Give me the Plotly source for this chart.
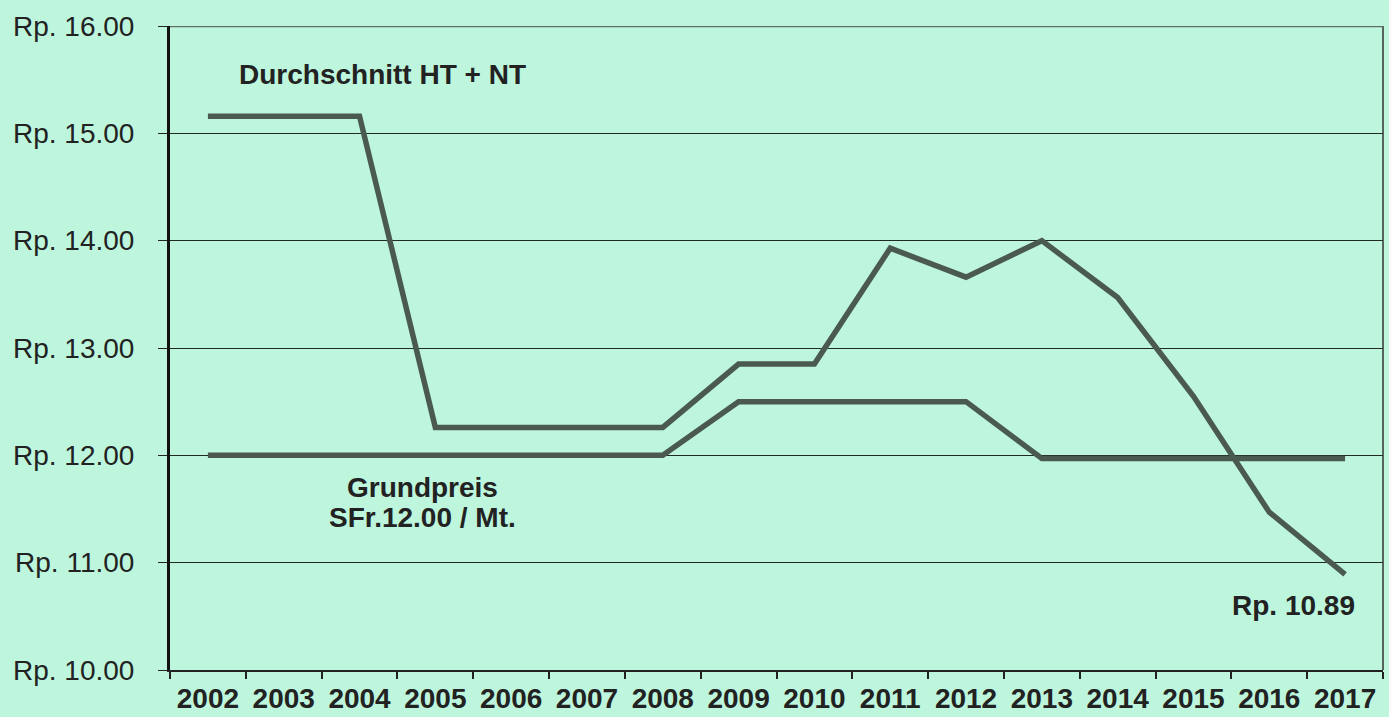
import plotly.graph_objects as go

years = [str(y) for y in range(2002, 2018)]
durchschnitt = [15.16, 15.16, 15.16, 12.26, 12.26, 12.26, 12.26, 12.85, 12.85,
                13.93, 13.66, 14.00, 13.47, 12.55, 11.47, 10.89]
grundpreis = [12.00, 12.00, 12.00, 12.00, 12.00, 12.00, 12.00, 12.50, 12.50,
              12.50, 12.50, 11.97, 11.97, 11.97, 11.97, 11.97]
y_ticks = [10, 11, 12, 13, 14, 15, 16]
y_tick_labels = ["Rp. %.2f" % v for v in y_ticks]

bg = "#bdf6dc"
line_col = "#4b5a51"

fig = go.Figure()
fig.add_trace(go.Scatter(x=years, y=grundpreis, mode="lines",
                         line=dict(color=line_col, width=5.5), hoverinfo="skip"))
fig.add_trace(go.Scatter(x=years, y=durchschnitt, mode="lines",
                         line=dict(color=line_col, width=5.5), hoverinfo="skip"))

font_family = "Liberation Sans, Arial, sans-serif"

fig.update_layout(
    width=1389, height=717,
    paper_bgcolor=bg, plot_bgcolor=bg,
    margin=dict(l=170, r=6, t=26, b=47),
    showlegend=False,
    hovermode=False,
    font=dict(family=font_family, color="#222222"),
    xaxis=dict(
        type="category", range=[-0.5, 15.5], automargin=False,
        tickson="boundaries", ticks="outside", ticklen=7, tickcolor="#222222",
        tickwidth=2, ticklabelstandoff=2,
        showgrid=False, showline=True, linecolor="#222222", linewidth=2,
        tickfont=dict(family=font_family, size=28, color="#222222", weight="bold"),
        zeroline=False,
    ),
    yaxis=dict(
        range=[10, 16], tickvals=y_ticks, ticktext=y_tick_labels, automargin=False,
        ticks="outside", ticklen=9, tickcolor="#222222", tickwidth=1,
        ticklabelstandoff=18,
        showgrid=True, gridcolor="#1e2a22", gridwidth=1.2,
        showline=True, linecolor="#111111", linewidth=3,
        tickfont=dict(family=font_family, size=28, color="#222222"),
        zeroline=False,
    ),
    shapes=[
        dict(type="line", xref="paper", yref="paper", x0=1, x1=1, y0=0, y1=1,
             line=dict(color="#333333", width=1.5)),
        dict(type="line", xref="paper", yref="y", x0=0, x1=1, y0=16, y1=16,
             line=dict(color="#5e6e64", width=2.5)),
    ],
    annotations=[
        dict(x=0.175, xref="paper", xanchor="center", y=15.55, yref="y",
             text="<b>Durchschnitt HT + NT</b>",
             showarrow=False, font=dict(size=28, color="#222222")),
        dict(x=0.208, xref="paper", xanchor="center", y=11.70, yref="y",
             text="<b>Grundpreis</b>",
             showarrow=False, font=dict(size=28, color="#222222")),
        dict(x=0.208, xref="paper", xanchor="center", y=11.42, yref="y",
             text="<b>SFr.12.00 / Mt.</b>",
             showarrow=False, font=dict(size=28, color="#222222")),
        dict(x=0.926, xref="paper", xanchor="center", y=10.6, yref="y",
             text="<b>Rp. 10.89</b>",
             showarrow=False, font=dict(size=28, color="#222222")),
    ],
)

fig.write_html("out.html", config={"displayModeBar": False},
               post_script="document.body.style.margin='0px';")
